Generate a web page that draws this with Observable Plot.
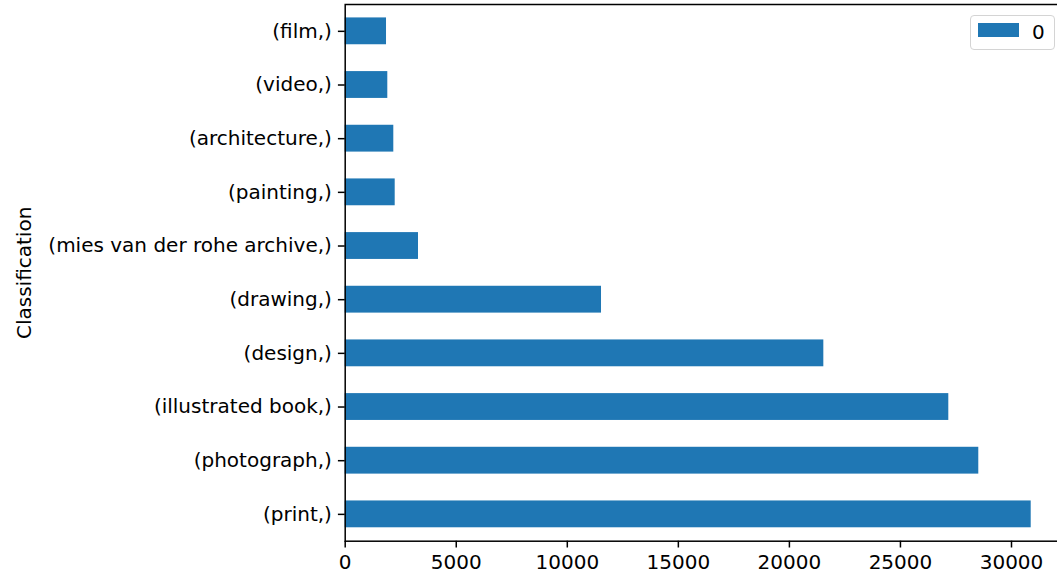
<!DOCTYPE html>
<html>
<head>
<meta charset="utf-8">
<script src="https://cdn.jsdelivr.net/npm/d3@7"></script>
<script src="https://cdn.jsdelivr.net/npm/@observablehq/plot@0.6"></script>
<style>
  html, body { margin: 0; padding: 0; background: #fff; overflow: hidden; width: 1057px; height: 573px; }
  #wrap { position: relative; width: 1057px; height: 573px; overflow: hidden; }
  #wrap svg { max-width: none !important; display: block; }
  #legend { position: absolute; left: 970px; top: 15px; width: 83px; height: 33px;
    border: 1px solid #d4d4d4; border-radius: 4px; background: rgba(255,255,255,0.8);
    font-family: "DejaVu Sans", sans-serif; font-size: 20px; color: #000; box-sizing: content-box; }
  #legend .sw { position: absolute; left: 7px; top: 7px; width: 41px; height: 14px; }
  #legend .lab { position: absolute; left: 61px; top: 4px; line-height: 24px; }
</style>
</head>
<body>
<div id="wrap"></div>
<script>
const categories = ["(film,)", "(video,)", "(architecture,)", "(painting,)", "(mies van der rohe archive,)", "(drawing,)", "(design,)", "(illustrated book,)", "(photograph,)", "(print,)"];
const values = [1860, 1918, 2188, 2251, 3300, 11540, 21550, 27177, 28527, 30887];
const xTicks = [0, 5000, 10000, 15000, 20000, 25000, 30000];
const seriesName = "0";
const barColor = "#1f77b4";
const yLabel = "Classification";

const data = categories.map((c, i) => ({category: c, value: values[i]}));
const xMax = d3.max(values) * 1.05;

const chart = Plot.plot({
  width: 1066,
  height: 573,
  marginLeft: 344.7,
  marginRight: 1,
  marginTop: 4,
  marginBottom: 32.3,
  style: {fontFamily: "DejaVu Sans, sans-serif", fontSize: "20px", background: "white", color: "black", maxWidth: "none"},
  x: {domain: [0, xMax]},
  y: {domain: categories, paddingInner: 0.5, paddingOuter: 0.25, round: false},
  marks: [
    Plot.barX(data, {x: "value", y: "category", fill: barColor}),
    Plot.frame({stroke: "black", strokeWidth: 1.5}),
    Plot.axisX({ticks: xTicks, tickFormat: d3.format("d"), tickSize: 6.8, tickPadding: 7, fontSize: 20, label: null, strokeWidth: 1.5}),
    Plot.axisY({tickSize: 6.8, tickPadding: 6.5, fontSize: 20, label: yLabel, labelAnchor: "center", labelOffset: 328, labelArrow: false, strokeWidth: 1.5})
  ]
});
document.getElementById("wrap").appendChild(chart);

const legend = document.createElement("div");
legend.id = "legend";
legend.innerHTML = `<div class="sw" style="background:${barColor}"></div><div class="lab">${seriesName}</div>`;
document.getElementById("wrap").appendChild(legend);
</script>
</body>
</html>
